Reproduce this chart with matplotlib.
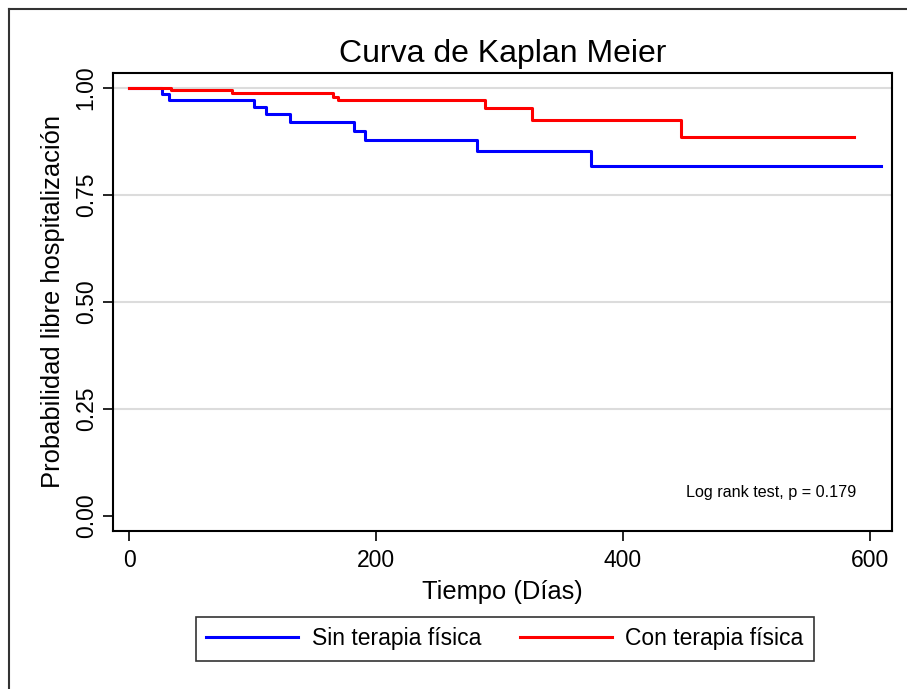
import matplotlib
matplotlib.use("Agg")
import matplotlib.pyplot as plt
from matplotlib.lines import Line2D

plt.rcParams['font.family'] = ['Liberation Sans', 'DejaVu Sans']

# Sin terapia fisica (tiempo de cada escalon, supervivencia despues del escalon)
t_sin = [0, 26.5, 32.7, 101.5, 110.7, 130.6, 182, 191.3, 282, 374, 609]
s_sin = [1.0, 0.985, 0.972, 0.955, 0.938, 0.920, 0.899, 0.878, 0.853, 0.818, 0.818]

# Con terapia fisica
t_con = [0, 34, 83, 165, 169, 288, 326.5, 447, 587]
s_con = [1.0, 0.995, 0.988, 0.980, 0.971, 0.952, 0.926, 0.885, 0.885]

y_ticks = [0.0, 0.25, 0.5, 0.75, 1.0]
y_ticklabels = ["0.00", "0.25", "0.50", "0.75", "1.00"]
x_ticks = [0, 200, 400, 600]

W, H = 907, 689
fig = plt.figure(figsize=(W / 100, H / 100), dpi=100)
ax = fig.add_axes([113 / W, 1 - 531 / H, (892 - 113) / W, (531 - 73) / H])

# grid
for yv in y_ticks[1:]:
    ax.axhline(yv, color="#dcdcdc", lw=1.5, zorder=0)

ax.step(t_sin, s_sin, where="post", color="#0000ff", lw=2.2, zorder=2)
ax.step(t_con, s_con, where="post", color="#ff0000", lw=2.2, zorder=3)

ax.set_xlim(-13, 618)
ax.set_ylim(-0.036, 1.035)
ax.set_xticks(x_ticks)
ax.set_yticks(y_ticks)
ax.set_yticklabels(y_ticklabels, rotation=90, va="center")
ax.tick_params(axis="both", labelsize=16.5, length=7, width=1.2, color="black")
ax.tick_params(axis="x", pad=6)
ax.tick_params(axis="y", pad=4)
for sp in ax.spines.values():
    sp.set_linewidth(1.5)

ax.set_xlabel("Tiempo (Días)", fontsize=18.4, labelpad=6)
ax.set_ylabel("Probabilidad libre hospitalización", fontsize=18.4, labelpad=7)
ax.set_title("Curva de Kaplan Meier", fontsize=23, pad=8)

ax.text(0.735, 0.083, "Log rank test, p = 0.179", transform=ax.transAxes,
        fontsize=11.6, va="center", ha="left")

handles = [Line2D([], [], color="#0000ff", lw=2.2),
           Line2D([], [], color="#ff0000", lw=2.2)]
leg = fig.legend(handles, ["Sin terapia física", "Con terapia física"],
                 loc="center", bbox_to_anchor=(505 / W, 1 - 639 / H), ncol=2,
                 fontsize=16.5, frameon=True, fancybox=False, edgecolor="black",
                 handlelength=4.0, handletextpad=0.6, columnspacing=1.7,
                 borderpad=0.45, borderaxespad=0)
leg.get_frame().set_linewidth(1.2)

# outer frame (left and top only are visible)
fig.add_artist(Line2D([9 / W, 9 / W], [0, 1 - 9 / H], transform=fig.transFigure,
                      color="#333333", lw=1.5))
fig.add_artist(Line2D([9 / W, 1], [1 - 9 / H, 1 - 9 / H], transform=fig.transFigure,
                      color="#333333", lw=1.5))

fig.savefig("out.png", dpi=100)
